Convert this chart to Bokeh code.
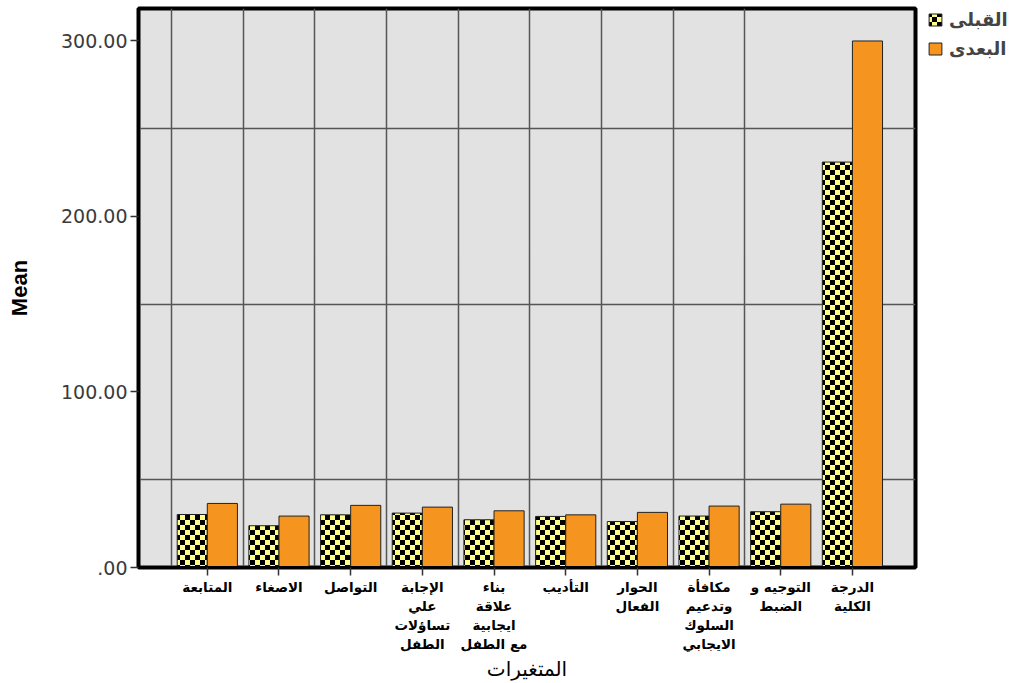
import base64
from bokeh.plotting import figure
from bokeh.models import (ColumnDataSource, FixedTicker, ImageURLTexture, Legend,
                          LegendItem, Range1d)
from bokeh.core.properties import value
from bokeh.transform import dodge
from bokeh.embed import file_html
from bokeh.resources import INLINE

# ---- data ----
categories = ["المتابعة", "الاصغاء", "التواصل", "الإجابة\nعلي\nتساؤلات\nالطفل",
              "بناء\nعلاقة\nايجابية\nمع الطفل", "التأديب", "الحوار\nالفعال",
              "مكافأة\nوتدعيم\nالسلوك\nالايجابي", "التوجيه و\nالضبط", "الدرجة\nالكلية"]
pre_values = [30.2, 23.8, 30.0, 31.0, 27.2, 29.1, 26.2, 29.3, 31.8, 231.0]
post_values = [36.5, 29.3, 35.4, 34.4, 32.3, 30.0, 31.4, 35.0, 36.1, 300.0]
series_names = ["القبلى", "البعدى"]
y_ticks = [0, 100, 200, 300]
y_tick_labels = [".00", "100.00", "200.00", "300.00"]
x_title = "المتغيرات"
y_title = "Mean"

FW, FH = 777, 559
BAR_W = 0.42
YELLOW = "#ffff8a"
ORANGE = "#f5951f"

idx = list(range(len(categories)))
source = ColumnDataSource(dict(x=idx, pre=pre_values, post=post_values))

p = figure(width=1026, height=683, frame_width=FW, frame_height=FH,
           x_range=Range1d(-0.96, 9.88), y_range=Range1d(0, 318.5),
           output_backend="svg", toolbar_location=None,
           min_border_left=138, min_border_right=111, min_border_top=8,
           min_border_bottom=116)

p.background_fill_color = "#e2e2e2"
p.border_fill_color = "white"
p.outline_line_color = "black"
p.outline_line_width = 4

# grid
p.xgrid.ticker = FixedTicker(ticks=[i - 0.5 for i in idx[:-1]])
p.ygrid.ticker = FixedTicker(ticks=[50, 150, 250])
for g in (p.xgrid, p.ygrid):
    g.grid_line_color = "#555555"
    g.grid_line_width = 1.5

# checker texture (yellow / black squares)
svg_checker = ('<svg xmlns="http://www.w3.org/2000/svg" width="10" height="10">'
               '<rect width="10" height="10" fill="%s"/>'
               '<rect width="5" height="5" fill="black"/>'
               '<rect x="5" y="5" width="5" height="5" fill="black"/></svg>' % YELLOW)
url = "data:image/svg+xml;base64," + base64.b64encode(svg_checker.encode()).decode()
tex = ImageURLTexture(url=url)

r_pre = p.vbar(x=dodge("x", -BAR_W / 2, range=p.x_range), top="pre", width=BAR_W,
               source=source, fill_color=YELLOW, line_color="#222222", line_width=1,
               hatch_pattern=value("chk"), hatch_extra={"chk": tex}, hatch_scale=10)
r_post = p.vbar(x=dodge("x", BAR_W / 2, range=p.x_range), top="post", width=BAR_W,
                source=source, fill_color=ORANGE, line_color="#222222",
                line_width=1)

# axes
p.xaxis.ticker = FixedTicker(ticks=idx)
p.xaxis.major_label_overrides = {i: c for i, c in zip(idx, categories)}
p.xaxis.major_label_text_font = "DejaVu Sans"
p.xaxis.major_label_text_font_style = "bold"
p.xaxis.major_label_text_font_size = "13.5px"
p.xaxis.major_label_text_color = "black"
p.xaxis.major_label_standoff = 3
p.xaxis.axis_label = x_title
p.xaxis.axis_label_text_font = "DejaVu Sans"
p.xaxis.axis_label_text_font_style = "normal"
p.xaxis.axis_label_text_font_size = "20px"
p.xaxis.axis_label_text_color = "black"
p.xaxis.axis_label_standoff = 2

p.yaxis.ticker = FixedTicker(ticks=y_ticks)
p.yaxis.major_label_overrides = {t: l for t, l in zip(y_ticks, y_tick_labels)}
p.yaxis.major_label_text_font = "DejaVu Sans"
p.yaxis.major_label_text_font_size = "19px"
p.yaxis.major_label_text_color = "#3a3a3a"
p.yaxis.major_label_standoff = 3
p.yaxis.axis_label = y_title
p.yaxis.axis_label_text_font = "Liberation Sans"
p.yaxis.axis_label_text_font_style = "bold"
p.yaxis.axis_label_text_font_size = "22px"
p.yaxis.axis_label_text_color = "black"
p.yaxis.axis_label_standoff = 26

for ax in (p.xaxis, p.yaxis):
    ax.axis_line_color = "black"
    ax.axis_line_width = 3
    ax.major_tick_line_color = "#333333"
    ax.major_tick_line_width = 1.5
    ax.major_tick_out = 8
    ax.major_tick_in = 0
    ax.minor_tick_line_color = None

legend = Legend(items=[LegendItem(label=series_names[0], renderers=[r_pre]),
                       LegendItem(label=series_names[1], renderers=[r_post])],
                location=(12, 508))
legend.border_line_color = None
legend.background_fill_alpha = 0
legend.glyph_width = 16
legend.glyph_height = 15
legend.label_text_font = "DejaVu Sans"
legend.label_text_font_style = "bold"
legend.label_text_font_size = "18px"
legend.label_standoff = 6
legend.spacing = 8
legend.padding = 0
legend.margin = 0
p.add_layout(legend, "right")

open("out.html", "w").write(file_html(p, INLINE))
